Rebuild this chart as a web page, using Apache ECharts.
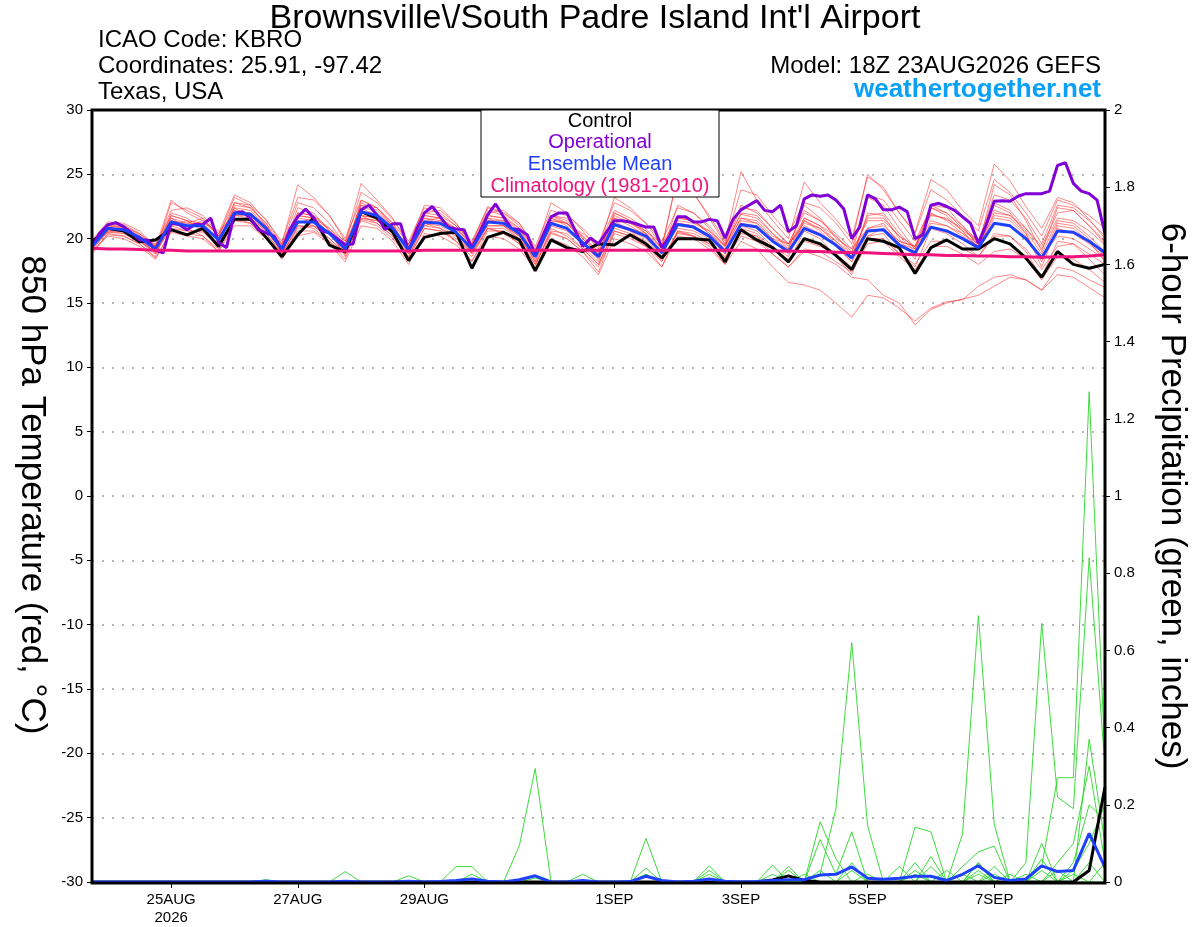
<!DOCTYPE html>
<html>
<head>
<meta charset="utf-8">
<title>KBRO GEFS meteogram</title>
<script src="https://cdn.jsdelivr.net/npm/echarts@6.0.0/dist/echarts.min.js"></script>
<style>
  html, body { margin: 0; padding: 0; background: #fff; }
  #chart { width: 1200px; height: 927px; }
</style>
</head>
<body>
<div id="chart"></div>
<script>
// time axis: hours since 18Z 23AUG2026 (ensemble every 6h, operational every 3h)
var ensStep = 6;
var opStep = 3;
var dateTicks = [30, 78, 126, 198, 246, 294, 342];
var dateLabels = ['25AUG\n2026', '27AUG', '29AUG', '1SEP', '3SEP', '5SEP', '7SEP'];

// 850 hPa temperature (C)
var controlTemp = [19.75,
  20.8, 20.6, 19.75, 19.9,  20.7, 20.3, 20.8, 19.4,  21.5, 21.5, 20.1, 18.6,  20.3, 21.6, 19.5, 19.0,
  22.1, 21.6, 20.5, 18.3,  20.1, 20.4, 20.5, 17.7,  20.1, 20.5, 19.9, 17.5,  19.9, 19.3, 19.0, 19.6,
  19.5, 20.3, 19.6, 18.5,  20.0, 20.0, 19.9, 18.2,  20.7, 19.9, 19.3, 18.2,  20.0, 19.6, 18.7, 17.6,
  20.0, 19.8, 19.3, 17.3,  19.3, 19.9, 19.2, 19.2,  20.0, 19.6, 18.5, 17.0,  19.0, 18.0, 17.7, 18.0];

var meanTemp = [19.4,
  20.8, 20.7, 20.1, 19.2,  21.3, 21.0, 21.0, 19.9,  22.0, 21.9, 20.8, 19.2,  21.3, 21.3, 20.4, 19.2,
  22.1, 21.8, 20.8, 19.1,  21.3, 21.2, 20.5, 19.2,  21.3, 21.2, 20.4, 18.6,  21.2, 20.8, 19.7, 18.6,
  21.1, 20.7, 20.2, 18.9,  21.1, 20.9, 20.2, 19.0,  21.1, 20.9, 19.8, 19.0,  20.8, 20.3, 19.5, 18.5,
  20.6, 20.7, 19.5, 18.9,  20.9, 20.6, 20.0, 19.3,  21.2, 21.0, 20.0, 18.5,  20.6, 20.5, 19.8, 18.9];

var climoTemp = [19.25, 19.2, 19.2, 19.15, 19.1,  19.1, 19.05, 19.05, 19.05, 19.05,
  19.05, 19.05, 19.05, 19.05, 19.05,  19.05, 19.05, 19.05, 19.05, 19.05,
  19.05, 19.1, 19.1, 19.1, 19.1,  19.1, 19.1, 19.1, 19.1, 19.1,
  19.1, 19.1, 19.1, 19.1, 19.1,  19.1, 19.1, 19.1, 19.1, 19.1,
  19.1, 19.1, 19.1, 19.05, 19.05,  19.0, 19.0, 18.95, 18.9, 18.9,
  18.85, 18.8, 18.75, 18.75, 18.7,  18.7, 18.65, 18.65, 18.6, 18.6,
  18.55, 18.6, 18.6, 18.65, 18.75];

// operational run, 3-hourly
var operTemp = [19.4, 20.45, 21.07, 21.25, 20.94, 20.45, 19.9, 19.9, 19.1, 18.9,
  21.2, 21.1, 20.7, 21.1, 21.1, 21.6, 19.7, 19.3, 22.0, 22.1,
  21.6, 20.7, 20.45, 20.2, 19.1, 20.7, 21.7, 22.3, 21.6, 20.6,
  20.45, 20.0, 19.5, 19.6, 22.25, 22.6, 21.85, 20.7, 21.15, 21.15,
  19.0, 20.7, 22.0, 22.5, 21.7, 20.9, 20.75, 20.7, 19.26, 20.5,
  21.85, 22.7, 21.7, 20.8, 20.7, 20.3, 18.75, 20.3, 21.7, 22.0,
  22.0, 20.7, 19.4, 20.04, 19.6, 20.5, 21.4, 21.4, 21.3, 21.1,
  20.9, 20.9, 19.3, 20.2, 21.7, 21.7, 21.3, 21.3, 21.5, 21.4,
  20.04, 21.5, 22.24, 22.6, 22.96, 22.2, 22.1, 22.6, 20.55, 21.0,
  23.1, 23.4, 23.3, 23.4, 23.0, 22.3, 20.0, 20.9, 23.4, 23.1,
  22.24, 22.24, 22.45, 22.1, 20.0, 20.3, 22.6, 22.75, 22.5, 22.2,
  21.7, 21.2, 19.65, 21.1, 22.9, 22.95, 22.9, 23.3, 23.5, 23.5,
  23.5, 23.7, 25.7, 25.9, 24.3, 23.7, 23.5, 23.0, 20.4];

// ensemble members
var mem01 = [19.8, 21.2,21.0,20.3,19.0, 22.8,22.2,21.6,20.2, 23.2,22.6,21.5,19.6, 24.2,23.2,21.8,19.8,
  24.3,23.0,21.6,19.5, 22.6,22.4,21.2,19.6, 22.5,22.0,21.0,19.0, 22.8,22.0,20.6,19.2,
  23.2,22.4,21.2,19.4, 24.8,23.5,21.8,19.8, 25.2,23.0,21.4,20.0, 24.4,22.8,21.5,20.0,
  24.8,24.0,22.0,20.5, 24.6,23.8,22.2,21.0, 25.8,24.5,22.5,20.8, 23.2,22.8,21.5,20.0];
var mem02 = [19.0, 20.3,20.2,19.6,18.5, 20.5,20.2,20.0,19.0, 21.0,21.0,20.0,18.4, 20.2,20.5,19.6,18.2,
  21.0,20.8,19.8,18.0, 20.4,20.2,19.5,18.3, 20.2,20.0,19.2,17.6, 20.0,19.5,18.6,17.2,
  20.0,19.6,19.0,17.8, 20.2,20.0,19.2,18.0, 19.8,19.2,17.8,16.6, 16.4,16.0,15.0,13.9,
  15.6,15.4,14.6,13.6, 14.6,15.1,15.25,16.3, 17.0,17.2,16.8,16.0, 17.2,17.0,16.2,15.4];
var mem03 = [19.2, 20.5,20.4,19.8,18.8, 21.0,20.6,20.5,19.4, 21.6,21.4,20.4,18.8, 21.0,21.0,20.0,18.9,
  21.5,21.2,20.2,18.6, 20.8,20.6,20.0,18.9, 20.8,20.5,19.8,18.0, 20.5,20.0,19.0,17.8,
  20.4,20.0,19.4,18.2, 20.5,20.2,19.6,18.4, 20.2,19.8,18.8,17.8, 19.0,18.6,18.0,17.0,
  16.8,15.6,15.0,13.3, 14.5,15.0,15.3,15.6, 16.3,17.0,16.8,16.0, 17.8,17.5,16.8,16.2];
var mem04 = [19.6, 21.0,20.9,20.4,19.5, 21.8,21.4,21.2,20.0, 22.4,22.2,21.0,19.4, 22.0,21.8,20.8,19.5,
  22.6,22.0,21.0,19.3, 21.8,21.6,20.8,19.4, 21.8,21.6,20.8,19.0, 21.8,21.4,20.2,19.0,
  21.8,21.2,20.6,19.3, 21.8,21.4,20.6,19.5, 21.9,21.6,20.4,19.4, 21.6,21.0,20.2,19.0,
  21.4,21.4,20.2,19.4, 21.9,21.5,20.8,19.8, 22.2,21.8,20.8,19.2, 21.6,21.4,20.6,19.5];
var mem05 = [19.1, 20.6,20.4,19.8,19.0, 20.8,20.6,20.6,19.6, 21.5,21.6,20.4,18.9, 20.8,21.0,20.0,18.8,
  21.6,21.4,20.5,18.8, 21.0,20.8,20.2,18.8, 20.8,20.8,20.0,18.0, 20.6,20.4,19.2,18.0,
  20.6,20.2,19.6,18.3, 20.6,20.4,19.8,18.5, 20.4,20.2,19.2,18.4, 19.8,19.4,18.8,17.8,
  20.0,20.0,18.8,18.0, 19.8,19.8,19.2,18.6, 20.2,20.2,19.2,17.6, 19.4,19.6,18.8,18.0];
var mem06 = [19.5, 21.1,21.1,20.4,19.3, 23.0,22.0,21.4,20.2, 22.8,22.4,21.2,19.5, 22.8,22.4,21.2,19.6,
  23.6,22.8,21.5,19.8, 22.4,22.0,21.0,19.4, 22.0,22.2,21.2,19.2, 21.4,21.2,20.4,19.4,
  22.2,21.6,20.8,19.2, 25.0,23.6,21.6,19.6, 22.6,22.0,20.8,19.6, 22.0,21.4,20.4,19.2,
  23.4,23.0,21.4,19.8, 22.4,22.0,21.0,19.8, 23.4,23.0,21.6,19.6, 22.6,22.4,21.4,20.2];
var mem07 = [19.3, 20.6,20.8,20.2,19.6, 21.4,21.0,21.4,20.4, 22.0,22.0,21.0,19.0, 21.8,21.6,20.4,18.8,
  22.4,21.8,20.8,19.0, 21.4,21.6,20.6,18.9, 21.0,21.0,20.2,18.2, 21.0,20.6,19.6,18.6,
  21.2,20.8,20.4,19.2, 20.8,20.6,20.0,18.8, 21.4,21.2,20.0,19.6, 21.0,20.4,19.4,18.2,
  20.2,20.8,19.8,19.4, 22.6,22.0,20.8,19.6, 21.8,21.6,20.4,18.2, 20.8,20.4,19.6,18.6];
var mem08 = [19.7, 20.9,20.6,19.8,19.0, 21.0,21.4,20.6,19.4, 22.4,21.6,20.6,19.0, 21.4,21.0,20.6,19.6,
  21.8,21.6,20.6,19.2, 21.0,21.4,20.8,19.6, 21.6,21.0,20.0,18.4, 21.6,21.0,19.4,18.2,
  21.4,20.6,19.6,18.6, 21.4,21.2,20.6,19.4, 21.6,21.4,20.2,19.6, 21.2,20.8,19.8,18.8,
  20.8,21.2,19.6,19.2, 21.4,21.0,20.4,19.6, 21.2,21.0,20.0,18.6, 20.2,20.0,19.2,18.4];
var mem09 = [19.9, 21.3,21.2,20.6,19.4, 22.2,22.4,21.8,20.4, 23.4,22.8,21.4,19.8, 23.2,23.0,21.8,20.0,
  23.0,22.4,21.2,19.6, 22.0,21.8,21.0,19.8, 22.4,22.0,21.2,19.4, 22.2,21.8,20.8,19.6,
  22.8,22.2,21.2,19.8, 22.4,22.0,21.0,19.6, 23.8,23.4,21.8,20.4, 22.8,22.4,21.2,19.6,
  25.0,23.8,22.0,20.4, 23.8,23.0,21.8,20.6, 24.6,23.6,22.0,20.2, 23.0,22.6,21.8,20.8];
var mem10 = [18.8, 20.4,20.2,19.6,18.6, 21.6,20.8,20.2,19.0, 21.4,21.2,20.2,18.6, 21.0,20.8,19.8,18.4,
  21.8,21.2,20.2,18.4, 20.8,20.6,19.8,18.2, 20.6,20.6,19.6,17.6, 20.4,20.0,19.0,17.4,
  20.6,20.2,19.4,17.8, 20.6,20.2,19.4,18.0, 20.8,20.4,19.2,18.2, 20.6,20.0,18.6,17.2,
  20.2,20.4,18.8,17.8, 20.8,20.4,19.6,18.6, 20.4,20.2,19.0,17.0, 19.8,19.6,18.4,17.2];
var mem11 = [19.4, 21.0,20.8,20.0,19.2, 21.6,21.2,21.0,19.8, 22.2,22.0,20.8,19.2, 21.8,21.6,20.4,19.0,
  22.8,22.2,21.0,19.2, 21.6,21.4,20.6,19.2, 21.8,21.6,20.6,18.8, 21.6,21.2,20.0,18.8,
  21.6,21.2,20.4,19.0, 21.6,21.4,20.4,19.2, 21.6,21.2,20.0,19.2, 21.4,20.8,19.6,18.6,
  21.6,21.6,20.2,19.0, 21.2,21.0,20.2,19.4, 22.0,21.8,20.6,18.8, 21.4,21.2,20.2,19.0];
var mem12 = [19.6, 20.7,20.6,20.2,19.4, 21.2,20.8,21.2,20.6, 21.8,21.8,20.8,19.4, 21.2,21.6,20.8,19.8,
  21.8,21.6,20.6,19.4, 21.2,21.0,20.2,19.0, 21.6,21.4,20.2,18.6, 21.8,21.2,19.8,18.6,
  21.6,21.0,20.2,19.0, 21.2,21.0,20.2,19.0, 21.2,21.0,19.8,18.8, 21.6,21.0,19.8,18.6,
  21.8,22.0,20.4,19.2, 22.0,21.4,20.4,19.4, 21.6,21.4,20.2,18.4, 21.2,21.0,20.0,18.6];
var mem13 = [19.3, 20.8,20.8,20.0,18.9, 21.8,21.4,20.8,19.4, 22.6,22.4,21.2,19.0, 22.4,22.0,20.6,18.6,
  23.0,22.4,21.2,18.8, 21.8,21.6,20.6,19.0, 21.4,21.4,20.4,18.2, 21.2,20.8,19.6,18.4,
  21.0,20.6,20.0,18.6, 21.2,21.0,20.2,18.8, 21.0,20.6,19.4,18.6, 21.4,20.6,19.4,18.2,
  22.0,21.8,20.0,18.4, 22.4,21.8,20.6,19.2, 22.6,22.0,20.4,17.8, 21.0,20.8,19.8,18.2];
var mem14 = [19.5, 20.5,20.6,20.1,19.4, 21.4,21.2,21.6,20.2, 21.8,21.6,20.6,19.6, 21.6,21.4,20.4,19.2,
  21.6,21.4,20.4,19.6, 21.6,21.2,20.4,19.4, 21.0,21.0,20.2,18.8, 21.4,21.2,20.2,18.8,
  22.0,21.4,20.6,19.6, 21.6,21.4,20.4,19.4, 22.0,21.8,20.4,19.2, 22.6,21.6,20.0,19.2,
  20.8,21.0,19.8,19.4, 21.8,21.6,20.6,19.8, 22.8,22.2,20.8,19.4, 22.0,22.2,21.0,19.6];
var mem15 = [19.0, 20.2,20.0,19.4,18.4, 20.6,20.4,20.2,19.2, 21.6,21.2,20.0,18.6, 20.6,20.6,19.8,18.8,
  21.4,21.0,20.0,18.6, 21.2,20.8,19.8,18.6, 20.8,20.4,19.6,17.8, 20.8,20.2,19.2,18.0,
  20.8,20.4,19.8,18.4, 20.4,20.2,19.6,18.6, 20.6,20.2,18.8,17.8, 19.2,19.0,18.2,17.4,
  19.6,19.8,18.6,17.6, 19.4,19.4,18.8,18.0, 19.0,19.2,18.4,16.8, 18.6,18.4,17.6,16.6];
var mem16 = [19.6, 21.1,20.9,20.0,18.9, 22.0,21.6,20.8,19.6, 22.8,22.6,21.0,18.8, 22.0,21.8,20.6,19.4,
  22.6,22.4,21.0,19.2, 22.0,22.2,21.2,19.6, 22.2,21.8,20.8,18.6, 21.8,21.6,20.0,18.8,
  22.0,21.4,20.4,18.8, 22.6,22.0,20.8,19.4, 22.4,22.2,20.8,19.6, 22.2,21.4,20.2,18.8,
  23.2,22.6,20.8,19.2, 22.6,22.4,21.0,19.4, 24.2,23.4,21.4,19.0, 22.4,22.2,21.0,19.8];

// 6-hour precipitation (inches)
var controlPrecip = [0,0,0,0,0, 0,0,0,0,0, 0,0,0,0,0, 0,0,0,0,0, 0,0,0,0,0, 0,0,0,0,0, 0,0,0,0,0,
  0,0,0,0,0, 0,0,0,0.005,0.016, 0.004,0,0,0,0, 0,0,0,0,0, 0,0,0,0,0, 0,0,0,0.03,0.246];
var meanPrecip = [0,0,0,0,0, 0,0,0,0,0, 0,0.002,0,0,0, 0,0.002,0,0,0,
  0.002,0,0.001,0.004,0.008, 0.002,0,0.006,0.016,0, 0,0.004,0,0,0.001,
  0.015,0.004,0,0.002,0.008, 0.002,0,0.001,0.004,0.006, 0.006,0.018,0.02,0.039,0.01,
  0.007,0.01,0.015,0.015,0.004, 0.02,0.042,0.012,0.004,0.008, 0.042,0.027,0.03,0.126,0.038];

var pmem01 = [0,0,0,0,0, 0,0,0,0,0, 0,0,0,0,0, 0,0.027,0,0,0, 0,0,0,0.04,0.04, 0,0,0.094,0.294,0,
  0,0,0,0,0, 0.02,0,0,0,0, 0,0,0,0,0, 0,0,0,0,0, 0,0,0.02,0,0, 0,0,0,0,0, 0,0,0,0.05,0];
var pmem02 = [0,0,0,0,0, 0,0,0,0,0, 0,0.006,0,0,0, 0,0,0,0,0, 0,0,0,0,0.02, 0,0,0,0.01,0,
  0,0.02,0,0,0, 0.113,0,0,0,0.042, 0,0,0,0,0, 0,0.156,0.06,0,0, 0,0,0,0,0, 0,0.05,0,0,0, 0.1,0,0,0.37,0.1];
var pmem03 = [0,0,0,0,0, 0,0,0,0,0, 0,0,0,0,0, 0,0,0,0,0, 0,0,0,0,0, 0,0,0,0,0,
  0,0,0,0,0, 0,0,0,0,0, 0,0,0,0.044,0, 0,0.02,0.19,0.62,0.146, 0,0,0,0.066,0, 0,0.02,0,0,0, 0,0,0.05,0.2,0.16];
var pmem04 = [0,0,0,0,0, 0,0,0,0,0, 0,0,0,0,0, 0,0,0,0,0, 0.016,0,0,0,0, 0,0,0,0,0,
  0,0,0,0,0, 0.036,0,0,0,0.03, 0,0,0,0,0.04, 0,0.11,0.02,0.13,0, 0,0,0.142,0.13,0, 0,0,0.02,0,0, 0,0.03,0,0,0.05];
var pmem05 = [0,0,0,0,0, 0,0,0,0,0, 0,0,0,0,0, 0,0,0,0,0, 0,0,0,0,0, 0,0,0,0,0,
  0,0,0,0,0, 0,0,0,0,0.02, 0,0,0,0,0, 0.02,0,0,0,0, 0,0.04,0,0,0, 0.124,0.69,0.15,0,0, 0.03,0,0.02,0,0];
var pmem06 = [0,0,0,0,0, 0,0,0,0,0, 0,0,0,0,0, 0,0,0,0,0, 0,0,0,0,0, 0,0,0,0,0,
  0,0,0,0,0, 0,0,0,0,0, 0,0,0,0.02,0, 0,0,0,0.03,0, 0,0,0.05,0,0, 0.04,0.078,0.093,0,0.05, 0.67,0.22,0.19,0.84,0.3];
var pmem07 = [0,0,0,0,0, 0,0,0,0,0, 0,0,0,0,0, 0,0,0,0,0, 0,0,0,0,0, 0,0,0,0,0,
  0,0,0,0,0, 0.02,0,0,0,0, 0,0,0,0,0, 0,0.03,0,0,0, 0,0,0,0.04,0, 0,0.05,0,0.02,0, 0.04,0.27,0.27,1.27,0.32];
var pmem08 = [0,0,0,0,0, 0,0,0,0,0, 0,0,0,0,0, 0,0,0,0,0, 0,0,0,0,0, 0,0,0,0,0,
  0,0,0,0,0, 0,0,0,0,0, 0,0,0,0,0.03, 0,0,0,0.05,0, 0,0,0,0,0.03, 0,0.03,0,0,0, 0.06,0,0.03,0.1,0.2];
var pmem09 = [0,0,0,0,0, 0,0,0,0,0, 0,0,0,0,0, 0,0,0,0,0, 0,0,0,0,0, 0,0,0,0,0,
  0,0,0,0,0, 0.015,0,0,0,0, 0,0,0,0,0, 0,0,0,0,0.02, 0,0,0.03,0,0, 0.02,0,0.04,0,0.02, 0,0.05,0.1,0.3,0.05];

var tempMembers = [mem01, mem02, mem03, mem04, mem05, mem06, mem07, mem08,
  mem09, mem10, mem11, mem12, mem13, mem14, mem15, mem16];
var precipMembers = [pmem01, pmem02, pmem03, pmem04, pmem05, pmem06, pmem07, pmem08, pmem09];

var FONT = '"Liberation Sans", Arial, Helvetica, sans-serif';

function toPairs(values, step) {
  return values.map(function (v, i) { return [i * step, v]; });
}

function lineSeries(values, step, axis, color, width, z) {
  return {
    type: 'line',
    yAxisIndex: axis,
    data: toPairs(values, step),
    symbol: 'none',
    silent: true,
    z: z,
    lineStyle: { color: color, width: width },
    emphasis: { disabled: true }
  };
}

var series = [];
tempMembers.forEach(function (m) {
  series.push(lineSeries(m, ensStep, 0, 'rgba(255,40,40,0.55)', 1, 2));
});
precipMembers.forEach(function (m) {
  series.push(lineSeries(m, ensStep, 1, 'rgba(40,215,40,0.9)', 1, 3));
});
series.push(lineSeries(controlPrecip, ensStep, 1, '#000000', 3, 4));
series.push(lineSeries(meanPrecip, ensStep, 1, '#2040ff', 3, 5));
series.push(lineSeries(controlTemp, ensStep, 0, '#000000', 3, 6));
series.push(lineSeries(operTemp, opStep, 0, '#8000d8', 3, 7));
series.push(lineSeries(meanTemp, ensStep, 0, '#2040ff', 3, 8));
series.push(lineSeries(climoTemp, ensStep, 0, '#f0137e', 3, 9));

var chart = echarts.init(document.getElementById('chart'), null, { renderer: 'canvas' });

var option = {
  animation: false,
  backgroundColor: '#ffffff',
  textStyle: { fontFamily: FONT },
  grid: { left: 92, top: 110, width: 1013, height: 773, show: false },
  xAxis: {
    type: 'value',
    min: 0, max: 384,
    axisLine: { show: false, onZero: false },
    splitLine: { show: false },
    axisTick: { show: true, customValues: dateTicks, length: 6, lineStyle: { color: '#000', width: 1 } },
    axisLabel: {
      customValues: dateTicks,
      color: '#000', fontSize: 15, lineHeight: 18, margin: 9, fontFamily: FONT,
      formatter: function (v) { return dateLabels[dateTicks.indexOf(v)] || ''; }
    }
  },
  yAxis: [{
    type: 'value',
    min: -30, max: 30, interval: 5,
    axisLine: { show: false },
    axisTick: { show: true, length: 5, lineStyle: { color: '#000', width: 1 } },
    axisLabel: { color: '#000', fontSize: 15, margin: 9, fontFamily: FONT },
    splitLine: { show: true, lineStyle: { color: '#b4b4b4', width: 2, type: [2, 8] } }
  }, {
    type: 'value',
    position: 'right',
    min: 0, max: 2, interval: 0.2,
    axisLine: { show: false },
    axisTick: { show: true, length: 5, lineStyle: { color: '#000', width: 1 } },
    axisLabel: { color: '#000', fontSize: 15, margin: 9, fontFamily: FONT },
    splitLine: { show: false }
  }],
  graphic: [
    // plot frame
    { type: 'rect', z: 50, silent: true, shape: { x: 92, y: 110, width: 1013, height: 773 }, style: { fill: null, stroke: '#000', lineWidth: 3 } },
    { type: 'text', x: 595, y: 19, style: { text: 'Brownsville\\/South Padre Island Int\'l Airport', font: '34px ' + FONT, fill: '#000', textAlign: 'center', textVerticalAlign: 'middle' } },
    { type: 'text', x: 98, y: 40, style: { text: 'ICAO Code: KBRO', font: '24px ' + FONT, fill: '#000', textAlign: 'left', textVerticalAlign: 'middle' } },
    { type: 'text', x: 98, y: 66, style: { text: 'Coordinates: 25.91, -97.42', font: '24px ' + FONT, fill: '#000', textAlign: 'left', textVerticalAlign: 'middle' } },
    { type: 'text', x: 98, y: 92, style: { text: 'Texas, USA', font: '24px ' + FONT, fill: '#000', textAlign: 'left', textVerticalAlign: 'middle' } },
    { type: 'text', x: 1101, y: 66, style: { text: 'Model: 18Z 23AUG2026 GEFS', font: '24px ' + FONT, fill: '#000', textAlign: 'right', textVerticalAlign: 'middle' } },
    { type: 'text', x: 1101, y: 90, style: { text: 'weathertogether.net', font: 'bold 26px ' + FONT, fill: '#0aa0f5', textAlign: 'right', textVerticalAlign: 'middle' } },
    { type: 'text', x: 32, y: 495, rotation: -Math.PI / 2, style: { text: '850 hPa Temperature (red, °C)', font: '35px ' + FONT, fill: '#000', textAlign: 'center', textVerticalAlign: 'middle' } },
    { type: 'text', x: 1172, y: 496, rotation: -Math.PI / 2, style: { text: '6-hour Precipitation (green, inches)', font: '35px ' + FONT, fill: '#000', textAlign: 'center', textVerticalAlign: 'middle' } },
    // legend box
    { type: 'rect', z: 100, shape: { x: 481, y: 110, width: 238, height: 87 }, style: { fill: '#fff', stroke: '#000', lineWidth: 1 } },
    { type: 'text', z: 101, x: 600, y: 121, style: { text: 'Control', font: '20px ' + FONT, fill: '#000', textAlign: 'center', textVerticalAlign: 'middle' } },
    { type: 'text', z: 101, x: 600, y: 142, style: { text: 'Operational', font: '20px ' + FONT, fill: '#8000d8', textAlign: 'center', textVerticalAlign: 'middle' } },
    { type: 'text', z: 101, x: 600, y: 164, style: { text: 'Ensemble Mean', font: '20px ' + FONT, fill: '#2040ff', textAlign: 'center', textVerticalAlign: 'middle' } },
    { type: 'text', z: 101, x: 600, y: 186, style: { text: 'Climatology (1981-2010)', font: '20px ' + FONT, fill: '#f0137e', textAlign: 'center', textVerticalAlign: 'middle' } }
  ],
  series: series
};

chart.setOption(option);
</script>
</body>
</html>
